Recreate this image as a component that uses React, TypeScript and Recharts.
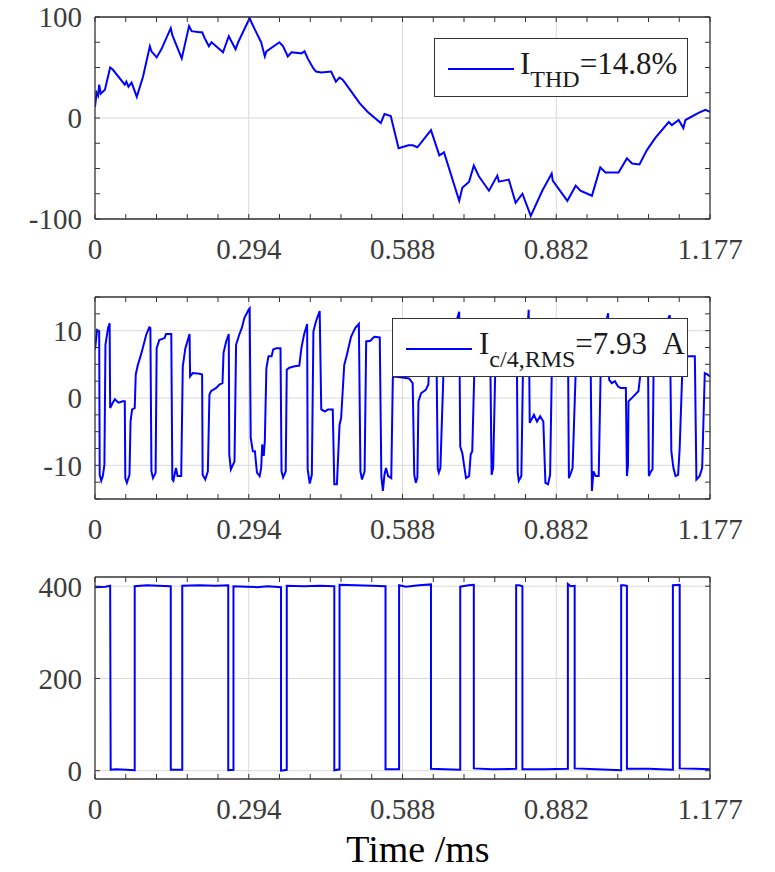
import { LineChart, Line, XAxis, YAxis, CartesianGrid } from "recharts";

const T_END = 1.177;
const xLabels = ["0", "0.294", "0.588", "0.882", "1.177"];

// grid current (top panel), [ms, value]
const gridCurrent: [number, number][] = [
  [0, 11], [0.003, 25], [0.006, 22], [0.008, 33], [0.011, 24], [0.019, 28], [0.029, 50], [0.034, 48],
  [0.057, 33], [0.06, 36], [0.064, 31], [0.07, 35], [0.08, 21], [0.092, 41], [0.105, 71], [0.108, 66],
  [0.118, 60], [0.127, 68], [0.145, 89], [0.148, 82], [0.166, 59], [0.18, 91], [0.185, 86], [0.2, 85],
  [0.205, 85], [0.21, 79], [0.218, 71], [0.223, 75], [0.245, 65], [0.256, 81], [0.261, 76], [0.269, 68],
  [0.274, 75], [0.296, 99], [0.299, 95], [0.318, 75], [0.325, 61], [0.328, 66], [0.353, 75], [0.36, 71],
  [0.369, 61], [0.376, 65], [0.395, 64], [0.401, 66], [0.407, 59], [0.418, 49], [0.423, 46], [0.433, 45],
  [0.452, 46], [0.461, 36], [0.468, 40], [0.474, 38], [0.481, 33], [0.506, 15], [0.522, 6], [0.547, -5],
  [0.554, 4], [0.566, 2], [0.581, -30], [0.6, -27], [0.608, -27], [0.617, -29], [0.643, -12], [0.659, -37],
  [0.668, -34], [0.697, -82], [0.703, -69], [0.716, -63], [0.725, -47], [0.735, -58], [0.754, -72],
  [0.77, -57], [0.773, -63], [0.792, -61], [0.805, -84], [0.818, -75], [0.834, -97], [0.856, -72],
  [0.874, -55], [0.876, -62], [0.904, -82], [0.92, -67], [0.929, -72], [0.951, -77], [0.967, -49],
  [0.977, -54], [1.002, -54], [1.018, -40], [1.028, -45], [1.042, -46], [1.056, -32], [1.072, -20],
  [1.098, -4], [1.104, -7], [1.117, -2], [1.126, -10], [1.13, -2], [1.155, 5], [1.168, 8], [1.177, 6],
];

// capacitor current (middle panel)
const capCurrent: [number, number][] = [
  [0, 7.2], [0.004, 10.1], [0.008, 9.9], [0.009, -11.4], [0.012, -12.3], [0.015, -11.6], [0.018, -9.9],
  [0.02, 7.9], [0.025, 10.4], [0.028, 11.1], [0.029, -1.5], [0.034, -0.7], [0.038, -0.2], [0.041, -0.4],
  [0.045, -0.7], [0.053, -0.5], [0.057, -0.5], [0.058, -11.9], [0.061, -12.6], [0.066, -11.4],
  [0.068, -3.5], [0.071, -1.7], [0.076, -1.5], [0.078, 3.5], [0.082, 4.9], [0.089, 6.7], [0.098, 9.4],
  [0.104, 10.5], [0.106, 10.4], [0.108, -10.9], [0.111, -11.9], [0.116, -11.1], [0.118, 7.4],
  [0.123, 8.6], [0.133, 8.9], [0.136, 9.5], [0.146, 9.5], [0.148, -12.1], [0.15, -12.3], [0.155, -10.4],
  [0.158, -11.6], [0.165, -11.6], [0.168, 4.7], [0.173, 7.4], [0.181, 9.5], [0.182, 3.2], [0.187, 3.7],
  [0.2, 3.6], [0.205, 3.5], [0.206, -11.4], [0.211, -12.1], [0.216, -10.9], [0.219, 0.5], [0.222, 1.0],
  [0.232, 1.5], [0.238, 2.0], [0.244, 2.2], [0.246, 6.7], [0.251, 8.4], [0.256, 9.5], [0.257, -8.4],
  [0.26, -10.6], [0.267, -9.4], [0.27, 7.9], [0.276, 9.4], [0.281, 10.4], [0.286, 11.9], [0.294, 13.1],
  [0.296, 13.3], [0.298, -5.9], [0.302, -7.9], [0.306, -7.9], [0.31, -11.1], [0.315, -11.6],
  [0.318, -10.4], [0.32, -6.9], [0.323, -8.6], [0.325, -6.4], [0.328, 4.4], [0.332, 6.2], [0.338, 6.2],
  [0.341, 7.2], [0.347, 7.4], [0.355, 7.4], [0.357, -10.9], [0.36, -11.8], [0.365, -10.9], [0.367, 4.2],
  [0.372, 4.5], [0.382, 4.7], [0.391, 4.8], [0.395, 7.4], [0.4, 9.4], [0.406, 11.0], [0.407, -10.6],
  [0.411, -12.7], [0.415, -11.4], [0.418, 9.9], [0.423, 11.4], [0.43, 12.9], [0.433, -1.7], [0.44, -2.0],
  [0.446, -1.7], [0.455, -1.7], [0.458, -12.8], [0.463, -12.8], [0.468, -4.0], [0.471, -3.0],
  [0.477, 4.9], [0.482, 6.4], [0.49, 9.1], [0.498, 10.4], [0.505, 11.0], [0.508, -10.9], [0.511, -12.1],
  [0.516, -10.9], [0.519, 8.4], [0.527, 8.5], [0.532, 8.9], [0.535, 9.1], [0.545, 9.0], [0.548, -11.6],
  [0.551, -13.8], [0.554, -11.4], [0.557, -10.4], [0.561, -11.6], [0.567, -11.9], [0.57, 3.0],
  [0.572, 3.2], [0.592, 3.0], [0.601, 2.9], [0.608, 2.2], [0.611, -11.4], [0.614, -12.6], [0.617, -11.8],
  [0.619, -0.5], [0.624, 0.7], [0.633, 1.2], [0.638, 2.0], [0.64, 6], [0.648, 9.5], [0.652, 10.5],
  [0.654, 3], [0.656, -10.5], [0.658, -11.1], [0.661, -10.4], [0.667, 4], [0.672, 7], [0.68, 9],
  [0.69, 11], [0.697, 12.8], [0.699, -7.2], [0.703, -8.2], [0.71, -11.9], [0.716, -11.6], [0.719, -8.4],
  [0.722, -7.9], [0.726, 4], [0.735, 7], [0.75, 9.5], [0.756, 9.6], [0.759, -11.4], [0.762, -10.4],
  [0.766, 4], [0.775, 7], [0.79, 9], [0.8, 10], [0.807, 10.2], [0.809, -11], [0.811, -12.3],
  [0.816, -11.6], [0.819, 4], [0.826, 8], [0.83, 13.1], [0.832, -3.7], [0.84, -2.5], [0.846, -3.5],
  [0.852, -2.7], [0.858, -3.5], [0.862, -12.6], [0.867, -12.8], [0.871, -11.4], [0.874, 3], [0.88, 6],
  [0.89, 9], [0.897, 10], [0.905, 10], [0.907, -11.9], [0.911, -11.1], [0.914, -10.4], [0.92, 4],
  [0.93, 7], [0.945, 9.5], [0.948, 10], [0.951, -13.8], [0.954, -10.9], [0.958, -11.6], [0.964, -11.6],
  [0.968, 5], [0.975, 10], [0.982, 12.6], [0.984, 2.7], [0.989, 2.2], [0.995, 2.5], [1.001, 1.7],
  [1.006, 1.5], [1.016, 1.5], [1.018, -11.6], [1.02, -10], [1.021, -0.5], [1.03, 0.2], [1.04, 1.0],
  [1.046, 5], [1.05, 8], [1.055, 9.5], [1.058, 9.8], [1.06, -11.6], [1.064, -10.9], [1.067, -10.6],
  [1.069, 4], [1.08, 8], [1.09, 10.5], [1.1, 12.3], [1.103, -7.9], [1.107, -10.4], [1.111, -11.6],
  [1.116, -11.4], [1.119, -7.4], [1.124, 4], [1.13, 5.9], [1.136, 6.2], [1.143, 6.2], [1.148, 6.2],
  [1.151, -12.1], [1.157, -11.6], [1.162, -10.4], [1.167, 3.7], [1.172, 3.5], [1.177, 3.2],
];

// capacitor voltage (bottom panel)
const capVoltage: [number, number][] = [
  [0, 398], [0.02, 399], [0.029, 401], [0.03, 2], [0.04, 3], [0.06, 2], [0.076, 1], [0.076, 400],
  [0.1, 402], [0.12, 401], [0.145, 400], [0.145, 2], [0.167, 2], [0.167, 401], [0.2, 402], [0.23, 401],
  [0.255, 402], [0.255, 1], [0.265, 2], [0.265, 400], [0.29, 399], [0.31, 398], [0.33, 400],
  [0.356, 398], [0.356, 0], [0.367, 2], [0.367, 401], [0.4, 400], [0.43, 401], [0.458, 400], [0.458, 1],
  [0.468, 3], [0.468, 403], [0.5, 402], [0.53, 401], [0.556, 400], [0.556, 3], [0.582, 3], [0.582, 402],
  [0.595, 399], [0.62, 402], [0.643, 404], [0.643, 4], [0.67, 3], [0.699, 2], [0.699, 399], [0.715, 402],
  [0.725, 403], [0.725, 5], [0.76, 3], [0.806, 4], [0.806, 402], [0.812, 402], [0.818, 400], [0.818, 3],
  [0.86, 3], [0.905, 4], [0.905, 405], [0.91, 400], [0.918, 401], [0.918, 5], [0.96, 3], [1.007, 1],
  [1.007, 402], [1.012, 402], [1.018, 401], [1.018, 4], [1.06, 4], [1.106, 2], [1.106, 402],
  [1.119, 403], [1.119, 5], [1.15, 4], [1.177, 3],
];

const xTicks = Array.from({ length: 21 }, (_, i) => +((i * T_END) / 20).toFixed(5));
const xGrid = [1, 2, 3].map((i) => +((i * T_END) / 4).toFixed(5));

const fmtX = (v: number) => {
  const i = Math.round((v / T_END) * 4);
  return Math.abs(v - (i * T_END) / 4) < 1e-4 ? xLabels[i] : "";
};

const AXIS = "#333333";
const SERIF = "'Liberation Serif', 'Times New Roman', serif";
const TICK_FILL = "#3c3c3c";

function XTick({ x, y, payload }: any) {
  const s = fmtX(payload.value);
  if (!s) return <g />;
  return (
    <text x={x} y={y} dy="0.71em" textAnchor="middle" fontFamily={SERIF} fontSize={29} fill={TICK_FILL}>
      {s}
    </text>
  );
}

type PanelProps = {
  top: number;
  data: [number, number][];
  yDomain: [number, number];
  yTicks: number[];
  yLabels: number[];
  children?: React.ReactNode;
};

function Panel({ top, data, yDomain, yTicks, yLabels, children }: PanelProps) {
  const rows = data.map(([t, v]) => ({ t, v }));
  const YTick = ({ x, y, payload }: any) =>
    yLabels.includes(payload.value) ? (
      <text x={x} y={y} dy="0.355em" textAnchor="end" fontFamily={SERIF} fontSize={29} fill={TICK_FILL}>
        {String(payload.value)}
      </text>
    ) : (
      <g />
    );
  return (
    <div style={{ position: "absolute", left: 0, top, width: 775, height: 271 }}>
      <LineChart width={775} height={271} data={rows} margin={{ top: 16, right: 64, bottom: 0, left: 0 }}>
        <CartesianGrid stroke="#d9d9d9" strokeWidth={1} verticalValues={xGrid} horizontalValues={yLabels} />
        <XAxis
          dataKey="t"
          type="number"
          domain={[0, T_END]}
          allowDataOverflow
          ticks={xTicks}
          interval={0}
          height={52}
          tickSize={-5}
          tickMargin={24}
          axisLine={{ stroke: AXIS, strokeWidth: 1.3 }}
          tickLine={{ stroke: AXIS }}
          tick={<XTick />}
        />
        <XAxis
          xAxisId="top"
          orientation="top"
          dataKey="t"
          type="number"
          domain={[0, T_END]}
          allowDataOverflow
          ticks={xTicks}
          interval={0}
          tickFormatter={() => ""}
          height={1}
          tickSize={-5}
          axisLine={{ stroke: AXIS, strokeWidth: 1.3 }}
          tickLine={{ stroke: AXIS }}
        />
        <YAxis
          type="number"
          domain={yDomain}
          allowDataOverflow
          ticks={yTicks}
          interval={0}
          width={95}
          tickSize={-5}
          tickMargin={18}
          axisLine={{ stroke: AXIS, strokeWidth: 1.3 }}
          tickLine={{ stroke: AXIS }}
          tick={<YTick />}
        />
        <YAxis
          yAxisId="right"
          orientation="right"
          type="number"
          domain={yDomain}
          allowDataOverflow
          ticks={yTicks}
          interval={0}
          tickFormatter={() => ""}
          width={1}
          tickSize={-5}
          axisLine={{ stroke: AXIS, strokeWidth: 1.3 }}
          tickLine={{ stroke: AXIS }}
        />
        <Line type="linear" dataKey="v" stroke="#0000ff" strokeWidth={2} dot={false} isAnimationActive={false} />
      </LineChart>
      {children}
    </div>
  );
}

function LegendBox({ left, width, sub, rest, textX }: { left: number; width: number; sub: string; rest: string; textX: number }) {
  return (
    <svg
      width={width}
      height={59}
      style={{ position: "absolute", left, top: 38, background: "#fff", border: "1.5px solid #333", boxSizing: "border-box" }}
    >
      <line x1={13} x2={79} y1={30} y2={30} stroke="#0000ff" strokeWidth={1.8} />
      <text x={textX} y={35} fontFamily={SERIF} fontSize={31} fill="#1a1a1a">
        I
        <tspan fontSize={24} dy={13}>{sub}</tspan>
        <tspan dy={-13}>{rest}</tspan>
      </text>
    </svg>
  );
}

export default function App() {
  return (
    <div style={{ position: "absolute", left: 0, top: 0, width: 775, height: 872, background: "#fff" }}>
      <Panel top={0} data={gridCurrent} yDomain={[-100, 100]} yTicks={[-100, -75, -50, -25, 0, 25, 50, 75, 100]} yLabels={[-100, 0, 100]}>
        <LegendBox left={434} width={254} sub="THD" rest="=14.8%" textX={85} />
      </Panel>
      <Panel
        top={280}
        data={capCurrent}
        yDomain={[-15, 15]}
        yTicks={[-15, -12.5, -10, -7.5, -5, -2.5, 0, 2.5, 5, 7.5, 10, 12.5, 15]}
        yLabels={[-10, 0, 10]}
      >
        <LegendBox left={392} width={296} sub="c/4,RMS" rest={"=7.93\u00a0\u00a0A"} textX={86} />
      </Panel>
      <Panel top={560} data={capVoltage} yDomain={[-18, 420]} yTicks={[0, 200, 400]} yLabels={[0, 200, 400]} />
      <svg width={775} height={52} style={{ position: "absolute", left: 0, top: 820 }}>
        <text x={418} y={42} textAnchor="middle" fontFamily={SERIF} fontSize={38} fill="#000">
          Time /ms
        </text>
      </svg>
    </div>
  );
}
